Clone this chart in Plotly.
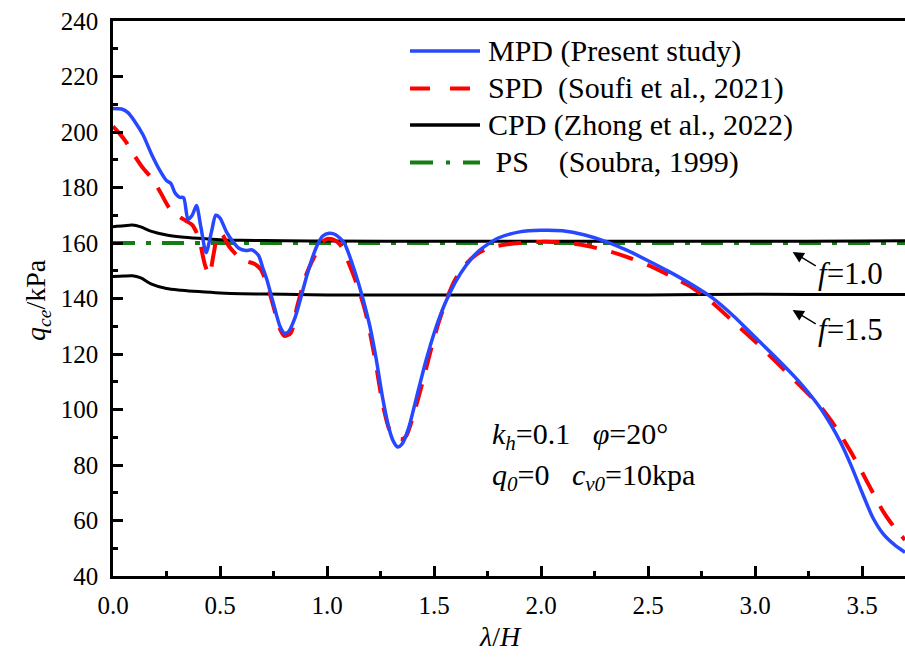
import plotly.graph_objects as go

# ---------------- data ----------------
mpd_x = [0.00, 0.04, 0.07, 0.10, 0.14, 0.18, 0.22, 0.25, 0.27, 0.29, 0.31, 0.33, 0.35, 0.37, 0.39,
         0.41, 0.435, 0.46, 0.48, 0.50, 0.53, 0.56, 0.59, 0.62, 0.65, 0.68, 0.70, 0.72, 0.75, 0.78,
         0.80, 0.82, 0.85, 0.88, 0.91, 0.95, 0.98, 1.01, 1.04, 1.08, 1.12, 1.16, 1.20, 1.23, 1.26,
         1.29, 1.31, 1.33, 1.35, 1.38, 1.42, 1.46, 1.50, 1.55, 1.60, 1.65, 1.70, 1.75, 1.80, 1.90,
         2.00, 2.10, 2.20, 2.30, 2.40, 2.50, 2.60, 2.70, 2.80, 2.90, 3.00, 3.10, 3.20, 3.30, 3.35,
         3.40, 3.45, 3.50, 3.55, 3.60, 3.65, 3.70]
mpd_y = [208.5, 208.3, 207.0, 204.0, 199.0, 192.0, 186.0, 182.5, 181.5, 178.0, 176.5, 176.3, 168.5, 170.0, 173.5,
         166.0, 156.5, 164.0, 170.0, 169.0, 164.0, 160.5, 158.0, 157.3, 157.5, 155.5, 151.0, 146.5, 138.0, 130.0,
         127.5, 128.0, 133.0, 141.0, 149.5, 158.5, 162.5, 163.5, 163.0, 160.0, 152.0, 142.0, 130.0, 118.0, 104.0,
         93.0, 88.5, 86.5, 87.5, 93.0, 105.0, 117.0, 127.5, 138.0, 146.0, 152.0, 156.5, 159.5, 161.8, 164.0,
         164.6, 164.4, 163.0, 160.6, 157.4, 153.6, 149.6, 145.2, 140.2, 133.6, 126.0, 118.5, 110.5, 101.0, 95.0,
         88.0, 79.5, 70.0, 61.0, 55.0, 51.3, 48.5]

spd_x = [0.00, 0.03, 0.06, 0.10, 0.14, 0.18, 0.22, 0.26, 0.30, 0.34, 0.37, 0.40, 0.43, 0.45, 0.47,
         0.49, 0.51, 0.54, 0.58, 0.62, 0.66, 0.69, 0.72, 0.75, 0.78, 0.80, 0.83, 0.86, 0.90, 0.94,
         0.98, 1.00, 1.03, 1.06, 1.10, 1.14, 1.18, 1.22, 1.26, 1.29, 1.32, 1.35, 1.37, 1.40, 1.44,
         1.48, 1.52, 1.56, 1.60, 1.65, 1.70, 1.75, 1.80, 1.90, 2.00, 2.10, 2.20, 2.30, 2.40, 2.50,
         2.60, 2.70, 2.80, 2.90, 3.00, 3.10, 3.20, 3.30, 3.35, 3.40, 3.45, 3.50, 3.55, 3.60, 3.65, 3.70]
spd_y = [202.0, 199.5, 196.5, 191.5, 187.0, 183.5, 178.5, 173.0, 170.0, 168.0, 166.5, 162.0, 152.0, 148.5, 156.0,
         163.0, 163.0, 159.0, 155.5, 153.5, 152.5, 150.5, 145.0, 137.0, 129.0, 126.5, 127.5, 137.0, 148.0, 155.0,
         160.5, 161.5, 161.2, 159.5, 153.0, 145.0, 135.0, 120.0, 102.0, 93.0, 89.8, 89.3, 90.5, 97.0, 108.0,
         120.0, 131.0, 140.0, 147.0, 152.5, 156.0, 158.0, 159.0, 160.0, 160.4, 160.2, 159.2, 157.4, 155.0, 152.0,
         148.3, 144.2, 138.5, 131.5, 124.5, 117.0, 109.3, 101.5, 96.5, 90.8, 84.3, 77.3, 70.0, 63.0, 57.5, 53.0]

cpd10_x = [0.00, 0.05, 0.09, 0.13, 0.18, 0.25, 0.32, 0.40, 0.50, 0.60, 0.80, 1.00, 1.50, 2.00, 2.50, 3.00, 3.50, 3.70]
cpd10_y = [165.9, 166.2, 166.5, 165.8, 164.2, 162.9, 162.2, 161.7, 161.2, 161.0, 160.8, 160.7, 160.6, 160.6, 160.6, 160.6, 160.7, 160.8]

cpd15_x = [0.00, 0.05, 0.09, 0.13, 0.18, 0.25, 0.32, 0.40, 0.50, 0.60, 0.80, 1.00, 1.50, 2.00, 2.50, 3.00, 3.50, 3.70]
cpd15_y = [147.9, 148.1, 148.2, 147.4, 145.2, 143.6, 143.0, 142.5, 142.0, 141.7, 141.5, 141.3, 141.3, 141.3, 141.3, 141.5, 141.4, 141.4]

ps_x = [0.00, 3.70]
ps_y = [160.0, 160.0]

legend_labels = ["MPD (Present study)",
                 "SPD\u00a0 (Soufi et al., 2021)",
                 "CPD (Zhong et al., 2022)",
                 "\u00a0PS\u00a0\u00a0\u00a0\u00a0(Soubra, 1999)"]

x_ticks = [0.0, 0.5, 1.0, 1.5, 2.0, 2.5, 3.0, 3.5]
y_ticks = [40, 60, 80, 100, 120, 140, 160, 180, 200, 220, 240]

# ---------------- styles ----------------
FONT = "Liberation Serif, 'Times New Roman', Times, serif"
BLUE = "rgb(40,72,255)"
RED = "rgb(255,0,0)"
BLACK = "rgb(0,0,0)"
GREEN = "rgb(20,125,20)"
RED_DASH = "23px,15px"
GREEN_DASH = "22px,11px,5px,11px"

fig = go.Figure()
fig.add_trace(go.Scatter(x=ps_x, y=ps_y, mode="lines",
                         line=dict(color=GREEN, width=4, dash=GREEN_DASH)))
fig.add_trace(go.Scatter(x=cpd10_x, y=cpd10_y, mode="lines",
                         line=dict(color=BLACK, width=3, shape="spline", smoothing=0.8)))
fig.add_trace(go.Scatter(x=cpd15_x, y=cpd15_y, mode="lines",
                         line=dict(color=BLACK, width=3, shape="spline", smoothing=0.8)))
fig.add_trace(go.Scatter(x=spd_x, y=spd_y, mode="lines",
                         line=dict(color=RED, width=4, dash=RED_DASH, shape="spline", smoothing=0.7)))
fig.add_trace(go.Scatter(x=mpd_x, y=mpd_y, mode="lines",
                         line=dict(color=BLUE, width=3.5, shape="spline", smoothing=0.7)))

# manual legend
leg_styles = [dict(color=BLUE, width=3.5),
              dict(color=RED, width=4, dash="20px,20px"),
              dict(color=BLACK, width=3.5),
              dict(color=GREEN, width=4, dash="23px,13px,4px,13px")]
leg_rows_px = [51, 88.5, 125, 162.5]
L, T, W, H = 113, 21, 792, 555
shapes = []
annotations = []
for lab, st, py in zip(legend_labels, leg_styles, leg_rows_px):
    yp = (T + H - py) / H
    shapes.append(dict(type="line", xref="paper", yref="paper",
                       x0=(410 - L) / W, x1=(480 - L) / W, y0=yp, y1=yp, line=st))
    annotations.append(dict(xref="paper", yref="paper", x=(486 - L) / W, y=yp,
                            xanchor="left", yanchor="middle", showarrow=False, text=lab,
                            font=dict(family=FONT, size=30, color="black")))

# f annotations with arrows
for head_y, tail_y, txt_y, lab in [(156.8, 151.4, 149.0, "<i>f</i>=1.0"),
                                   (135.9, 130.5, 128.8, "<i>f</i>=1.5")]:
    annotations.append(dict(x=3.175, y=head_y, ax=3.29, ay=tail_y, xref="x", yref="y",
                            axref="x", ayref="y", text="", showarrow=True,
                            arrowhead=2, arrowsize=1.6, arrowwidth=1.4, arrowcolor="black"))
    annotations.append(dict(x=3.285, y=txt_y, xref="x", yref="y", xanchor="left",
                            yanchor="middle", showarrow=False, text=lab,
                            font=dict(family=FONT, size=31, color="black")))

annotations.append(dict(x=1.76, y=90.5, xref="x", yref="y", xanchor="left", yanchor="middle",
                        showarrow=False,
                        text="<i>k<sub>h</sub></i>=0.1\u00a0\u00a0\u00a0<i>φ</i>=20°",
                        font=dict(family=FONT, size=30, color="black")))
annotations.append(dict(x=1.76, y=75.5, xref="x", yref="y", xanchor="left", yanchor="middle",
                        showarrow=False,
                        text="<i>q<sub>0</sub></i>=0\u00a0\u00a0\u00a0<i>c<sub>v0</sub></i>=10kpa",
                        font=dict(family=FONT, size=30, color="black")))

# axis titles
annotations.append(dict(xref="paper", yref="paper", x=(37 - L) / W, y=(T + H - 300) / H,
                        xanchor="center", yanchor="middle", textangle=-90, showarrow=False,
                        text="<i>q<sub>ce</sub></i>/kPa",
                        font=dict(family=FONT, size=28, color="black")))
annotations.append(dict(xref="paper", yref="paper", x=(500 - L) / W, y=(T + H - 636) / H,
                        xanchor="center", yanchor="middle", showarrow=False,
                        text="<i>λ</i>/<i>H</i>",
                        font=dict(family=FONT, size=28, color="black")))

fig.update_layout(
    width=905, height=659,
    margin=dict(l=113, r=0, t=21, b=83),
    paper_bgcolor="white", plot_bgcolor="white",
    showlegend=False,
    shapes=shapes, annotations=annotations,
    font=dict(family=FONT, size=25, color="black"),
)
fig.update_xaxes(range=[0, 3.7], tickvals=x_ticks, ticktext=[f"{v:.1f}" for v in x_ticks],
                 showgrid=False, zeroline=False, showline=True, linecolor="black", linewidth=2.5,
                 mirror=True, ticks="inside", ticklen=10, tickwidth=2.5, tickcolor="black",
                 minor=dict(ticks="inside", ticklen=5, tickwidth=2.5, tickcolor="black", dtick=0.25,
                            showgrid=False),
                 ticklabelstandoff=5,
                 tickfont=dict(family=FONT, size=25, color="black"))
fig.update_yaxes(range=[40, 240], tickvals=y_ticks, ticktext=[str(v) for v in y_ticks],
                 showgrid=False, zeroline=False, showline=True, linecolor="black", linewidth=2.5,
                 mirror=False, ticks="inside", ticklen=10, tickwidth=2.5, tickcolor="black",
                 minor=dict(ticks="inside", ticklen=5, tickwidth=2.5, tickcolor="black", dtick=10,
                            showgrid=False),
                 ticklabelstandoff=7,
                 tickfont=dict(family=FONT, size=25, color="black"))

fig.write_html("out.html")
